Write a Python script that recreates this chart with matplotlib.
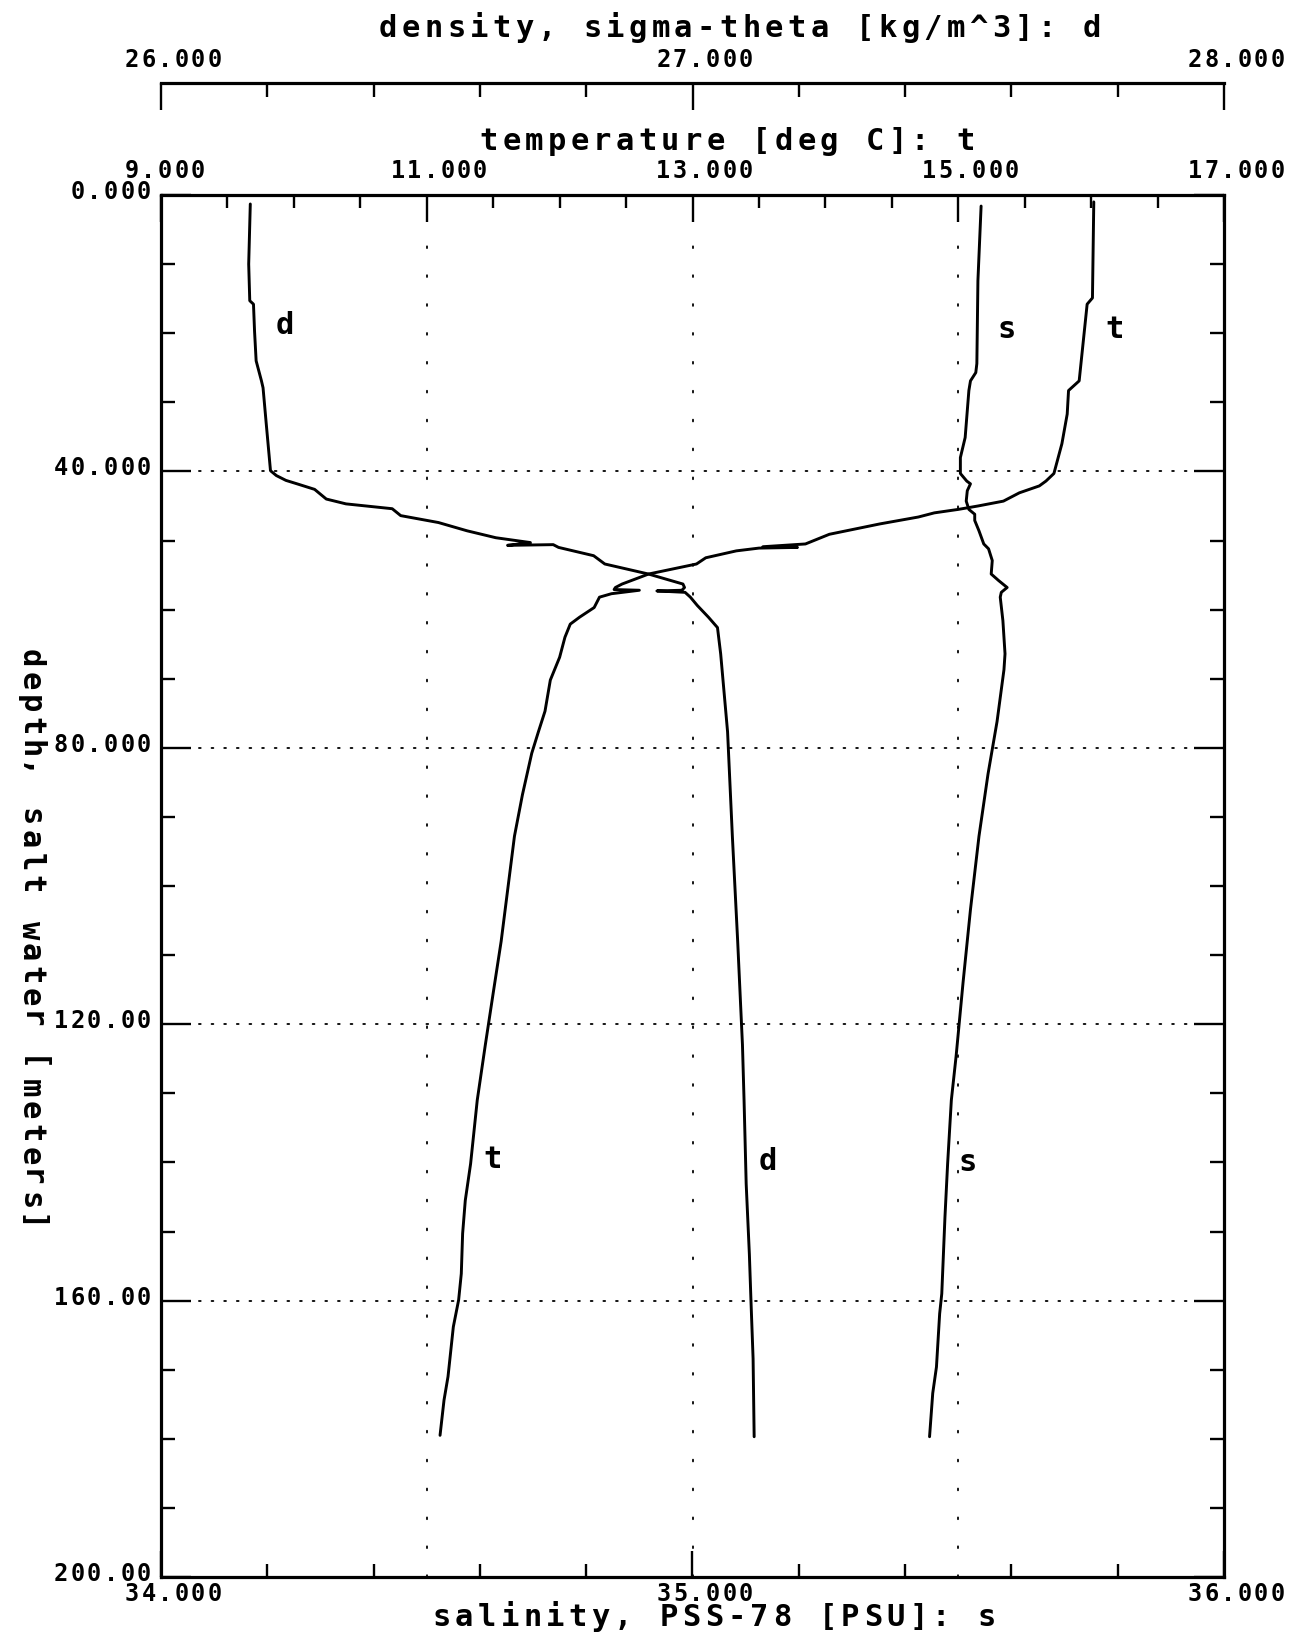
import matplotlib
matplotlib.use('Agg')
import matplotlib.pyplot as plt
import matplotlib.transforms as mtransforms
import numpy as np

# --- CTD cast: temperature, salinity and sigma-theta against depth ---
t_depth = [1.0, 14.9, 15.8, 26.9, 28.3, 31.7, 36.0, 40.3, 41.4, 42.1, 43.1, 44.3,
           45.0, 45.5, 46.0, 46.6, 47.6, 49.1, 50.5, 50.9, 51.0, 51.1, 51.5, 52.5,
           53.4, 54.85, 56.3, 56.8, 57.1, 57.2, 57.7, 58.2, 59.7, 61.1, 62.1, 64.0,
           66.9, 70.2, 74.7, 77.7, 80.8, 86.8, 92.8, 100.4, 108.0, 115.5, 123.1,
           131.0, 140.2, 145.5, 150.3, 156.1, 159.9, 163.8, 171.0, 174.4, 179.5]
t_temp = [16.02, 16.01, 15.97, 15.91, 15.83, 15.82, 15.78, 15.72, 15.66, 15.61, 15.46, 15.34,
          15.15, 15.00, 14.82, 14.70, 14.41, 14.03, 13.85, 13.53, 13.79, 13.50, 13.33, 13.10,
          13.03, 12.67, 12.47, 12.42, 12.41, 12.60, 12.39, 12.30, 12.26, 12.15, 12.08, 12.04,
          12.00, 11.93, 11.89, 11.84, 11.79, 11.72, 11.66, 11.61, 11.56, 11.50, 11.44,
          11.38, 11.33, 11.29, 11.27, 11.26, 11.24, 11.20, 11.16, 11.13, 11.10]

s_depth = [1.6, 12.4, 24.4, 25.7, 26.9, 28.3, 35.1, 38.0, 40.3, 41.4, 41.8, 42.8,
           44.3, 45.5, 46.2, 47.1, 48.6, 50.5, 51.2, 52.9, 54.85, 55.8, 56.8, 57.5,
           58.2, 61.6, 66.4, 68.7, 76.2, 83.8, 92.8, 103.4, 114.0, 124.6, 131.0,
           140.2, 147.9, 159.0, 161.9, 169.6, 173.4, 179.7]
s_sal = [35.543, 35.537, 35.535, 35.533, 35.523, 35.520, 35.513, 35.504, 35.504, 35.516, 35.523, 35.517,
         35.515, 35.520, 35.531, 35.531, 35.539, 35.548, 35.557, 35.564, 35.562, 35.576, 35.592, 35.581,
         35.579, 35.584, 35.588, 35.586, 35.573, 35.556, 35.539, 35.523, 35.509, 35.496, 35.487,
         35.480, 35.475, 35.469, 35.465, 35.459, 35.452, 35.446]

d_depth = [1.3, 10.0, 15.3, 15.8, 19.7, 24.0, 26.9, 27.9, 33.1, 39.9, 40.6, 41.3,
           41.8, 42.6, 44.0, 44.7, 45.4, 46.4, 47.4, 48.6, 49.6, 50.3, 50.7, 50.6,
           51.0, 52.2, 53.4, 54.85, 56.3, 56.8, 57.2, 57.3, 57.5, 58.2, 59.4, 61.1,
           62.6, 66.4, 77.7, 92.8, 108.0, 123.0, 131.0, 143.1, 153.3, 160.0, 168.4, 179.7]
d_sigma = [26.168, 26.165, 26.167, 26.174, 26.176, 26.179, 26.189, 26.192, 26.198, 26.206, 26.217, 26.235,
           26.256, 26.289, 26.311, 26.348, 26.435, 26.451, 26.522, 26.576, 26.630, 26.695, 26.652, 26.738,
           26.748, 26.814, 26.835, 26.917, 26.982, 26.985, 26.980, 26.933, 26.986, 26.996, 27.009, 27.030,
           27.047, 27.053, 27.066, 27.075, 27.085, 27.094, 27.097, 27.101, 27.107, 27.110, 27.114, 27.116]

# axis annotation
temp_labels = ['9.000', '11.000', '13.000', '15.000', '17.000']
temp_label_at = [9, 11, 13, 15, 17]
dens_labels = ['26.000', '27.000', '28.000']
dens_label_at = [26, 27, 28]
sal_labels = ['34.000', '35.000', '36.000']
sal_label_at = [34, 35, 36]
depth_labels = ['0.000', '40.000', '80.000', '120.00', '160.00', '200.00']
depth_label_at = [0, 40, 80, 120, 160, 200]

W, H = 1300, 1638
FONT = 'DejaVu Sans Mono'
PT = 0.72  # points per pixel at 100 dpi


def pen_text(fig, x, y, s, trans, size, step, rot=0, anchor='left', dx=0, dy=0):
    """Write s glyph by glyph with a fixed advance in pixels, plotter style."""
    n = len(s)
    if anchor == 'center':
        start = -(n - 1) / 2 * step
    elif anchor == 'right':
        start = -(n - 1) * step
    else:
        start = 0
    for i, ch in enumerate(s):
        if ch == ' ':
            continue
        d = start + i * step
        if rot == 0:
            tr = mtransforms.offset_copy(trans, fig=fig, x=dx + d, y=dy, units='dots')
        else:
            tr = mtransforms.offset_copy(trans, fig=fig, x=dx, y=dy - d, units='dots')
        fig.text(x, y, ch, transform=tr, rotation=rot, rotation_mode='anchor',
                 ha='center', va='baseline', fontsize=size, family=FONT,
                 fontweight='bold', color='black')


fig = plt.figure(figsize=(W / 100, H / 100), dpi=100, facecolor='white')

L, R, T, B = 161, 1224, 195, 1577
ax = fig.add_axes([L / W, 1 - B / H, (R - L) / W, (B - T) / H])
ax.set_xlim(9, 17)
ax.set_ylim(200, 0)
ax_s = ax.twiny()
ax_s.set_xlim(34, 36)
ax_d = ax.twiny()
ax_d.set_xlim(26, 28)

for sp in ax.spines.values():
    sp.set_linewidth(2.3)
for a in (ax_s, ax_d):
    for sp in a.spines.values():
        sp.set_visible(False)
ax_d.spines['top'].set_visible(True)
ax_d.spines['top'].set_linewidth(2.3)
ax_d.spines['top'].set_position(('outward', 112 * PT))

TW = 1.7  # tick stroke

# temperature ruler along the top of the box
ax.xaxis.set_ticks_position('top')
ax.set_xticks(temp_label_at)
ax.set_xticks(np.arange(9, 17.01, 0.5), minor=True)
ax.tick_params(axis='x', which='major', direction='in', length=27 * PT, width=TW,
               top=True, bottom=False, labeltop=False, labelbottom=False)
ax.tick_params(axis='x', which='minor', direction='in', length=13 * PT, width=TW,
               top=True, bottom=False)

# depth ticks on both sides
ax.set_yticks(depth_label_at)
ax.set_yticks(np.arange(0, 201, 10), minor=True)
ax.tick_params(axis='y', which='major', direction='in', length=30 * PT, width=TW,
               left=True, right=True, labelleft=False)
ax.tick_params(axis='y', which='minor', direction='in', length=14 * PT, width=TW,
               left=True, right=True)

# salinity ruler along the bottom
ax_s.xaxis.set_ticks_position('bottom')
ax_s.set_xticks(sal_label_at)
ax_s.set_xticks(np.arange(34, 36.01, 0.2), minor=True)
ax_s.tick_params(axis='x', which='major', direction='in', length=26 * PT, width=TW,
                 bottom=True, top=False, labelbottom=False, labeltop=False)
ax_s.tick_params(axis='x', which='minor', direction='in', length=13 * PT, width=TW,
                 bottom=True, top=False)

# density ruler floating above
ax_d.xaxis.set_ticks_position('top')
ax_d.set_xticks(dens_label_at)
ax_d.set_xticks(np.arange(26, 28.01, 0.2), minor=True)
ax_d.tick_params(axis='x', which='major', direction='in', length=27 * PT, width=TW,
                 top=True, bottom=False, labeltop=False, labelbottom=False)
ax_d.tick_params(axis='x', which='minor', direction='in', length=14 * PT, width=TW,
                 top=True, bottom=False)

# sparse dotted reference lines
for dep in [40, 80, 120, 160]:
    ax.axhline(dep, color='black', lw=1.3, linestyle=(0, (1, 6)), dash_capstyle='round', zorder=1)
for tv in [11, 13, 15]:
    ax.axvline(tv, color='black', lw=1.3, linestyle=(0, (1, 15)), dash_capstyle='round', zorder=1)

# profiles
line_kw = dict(color='black', lw=2.1, solid_joinstyle='round', solid_capstyle='round', zorder=3)
ax.plot(t_temp, t_depth, **line_kw)
ax_s.plot(s_sal, s_depth, **line_kw)
ax_d.plot(d_sigma, d_depth, **line_kw)

# curve tags
tag_kw = dict(transform=ax.transAxes, ha='center', va='baseline', fontsize=22,
              family=FONT, fontweight='bold', color='black')
ax.text(0.1162, 0.8994, 'd', **tag_kw)
ax.text(0.7954, 0.8965, 's', **tag_kw)
ax.text(0.8970, 0.8965, 't', **tag_kw)
ax.text(0.3123, 0.2960, 't', **tag_kw)
ax.text(0.5706, 0.2945, 'd', **tag_kw)
ax.text(0.7592, 0.2938, 's', **tag_kw)

# tick labels
LBL, STEP = 17, 16.5
tr_top = mtransforms.blended_transform_factory(ax.transData, ax.transAxes)
for v, s in zip(temp_label_at, temp_labels):
    pen_text(fig, v, 1, s, tr_top, LBL, STEP, dx=-29, dy=17)
tr_den = mtransforms.blended_transform_factory(ax_d.transData, ax.transAxes)
for v, s in zip(dens_label_at, dens_labels):
    pen_text(fig, v, 1, s, tr_den, LBL, STEP, dx=-29, dy=128)
tr_bot = mtransforms.blended_transform_factory(ax_s.transData, ax.transAxes)
for v, s in zip(sal_label_at, sal_labels):
    pen_text(fig, v, 0, s, tr_bot, LBL, STEP, dx=-29, dy=-24)
tr_left = mtransforms.blended_transform_factory(ax.transAxes, ax.transData)
for v, s in zip(depth_label_at, depth_labels):
    pen_text(fig, 0, v, s, tr_left, LBL, 16.6, anchor='right', dx=-17, dy=-4)

# axis titles
TTL, TSTEP = 22, 22.7
ftr = fig.transFigure
pen_text(fig, 740 / W, 1 - 37 / H, 'density, sigma-theta [kg/m^3]: d', ftr, TTL, TSTEP, anchor='center')
pen_text(fig, 727 / W, 1 - 150 / H, 'temperature [deg C]: t', ftr, TTL, TSTEP, anchor='center')
pen_text(fig, 714 / W, 1 - 1626 / H, 'salinity, PSS-78 [PSU]: s', ftr, TTL, TSTEP, anchor='center')
pen_text(fig, 22 / W, 1 - 941 / H, 'depth, salt water [meters]', ftr, TTL, 22.6, rot=-90, anchor='center')

fig.savefig('out.png', dpi=100, facecolor='white')
